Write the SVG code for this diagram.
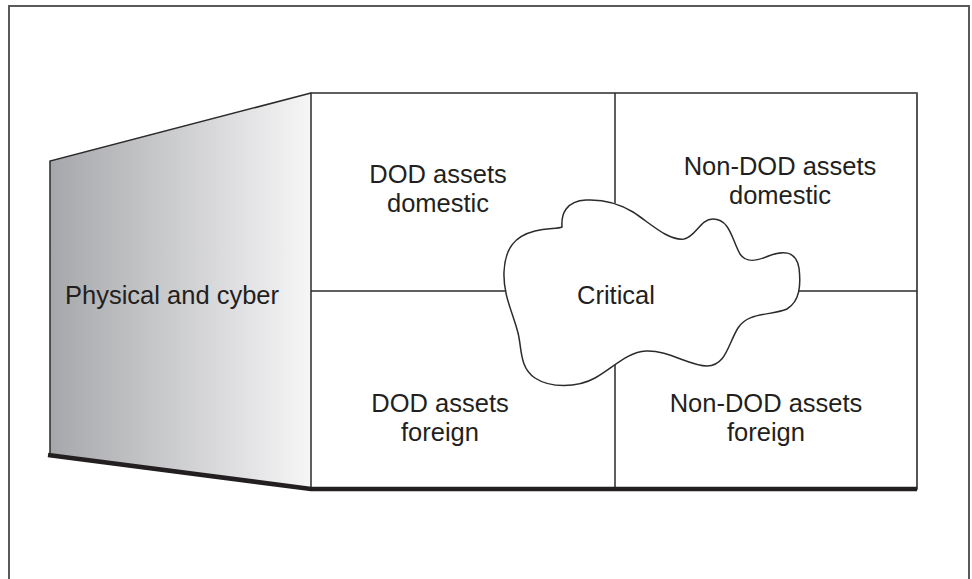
<svg xmlns="http://www.w3.org/2000/svg" width="972" height="579" viewBox="0 0 972 579">
<style>
.frame{fill:none;stroke:#5a5a5a;stroke-width:2}
.ln{fill:none;stroke:#2b2b2b;stroke-width:1.5}
.cloud{fill:#fff;stroke:#2b2b2b;stroke-width:1.5}
.thick{fill:none;stroke:#231f20;stroke-width:4.5;stroke-linejoin:miter}
.lbl{font-family:"Liberation Sans",Arial,Helvetica,sans-serif;font-size:25.5px;fill:#231f20;text-anchor:middle}
</style>
<defs>
<linearGradient id="g" x1="0" y1="0" x2="1" y2="0">
<stop offset="0" stop-color="#a6a7aa"/>
<stop offset="1" stop-color="#f6f6f7"/>
</linearGradient>
</defs>
<rect width="972" height="579" fill="#fff"/>
<path class="frame" d="M9,579 V6 H969 V579"/>
<g id="side">
<path d="M50,161 L311,93 L311,489 L50,455 Z" fill="url(#g)" stroke="none"/>
<path class="ln" d="M50,455 V161 L311,93"/>
<text class="lbl" x="172" y="304">Physical and cyber</text>
</g>
<g id="grid">
<rect class="ln" x="311" y="93" width="606" height="396"/>
<path d="M917,93 V489" stroke="#555" stroke-width="2" fill="none"/>
<path class="ln" d="M615,93 V489 M311,291 H917"/>
<path class="thick" d="M48,455 L311,489 H917"/>
</g>
<g id="q1"><text class="lbl" x="438" y="183">DOD assets</text><text class="lbl" x="438" y="212">domestic</text></g>
<g id="q2"><text class="lbl" x="780" y="175">Non-DOD assets</text><text class="lbl" x="780" y="204">domestic</text></g>
<g id="q3"><text class="lbl" x="440" y="412">DOD assets</text><text class="lbl" x="440" y="441">foreign</text></g>
<g id="q4"><text class="lbl" x="766" y="412">Non-DOD assets</text><text class="lbl" x="766" y="441">foreign</text></g>
<g id="critical">
<path class="cloud" d="M562,227 C561,214 566,201 586,200 C606,199 620,204 633,212 C650,223 668,241 684,239 C696,237 700,219 713,219 C730,219 732,240 740,254 C746,263 756,261 766,257 C782,250 796,250 799,268 C801,285 800,301 787,309 C770,316 748,312 738,328 C728,344 726,366 707,366 C690,366 668,350 646,351 C627,352 613,368 595,378 C577,388 550,388 535,378 C519,367 522,348 518,333 C513,313 503,295 504,272 C505,248 515,236 535,231 C548,228 558,229 562,227 Z"/>
<text class="lbl" x="616" y="304">Critical</text>
</g>
</svg>
